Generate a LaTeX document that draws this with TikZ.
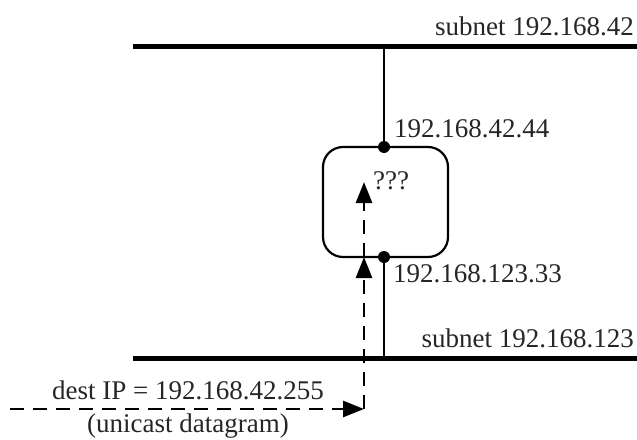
\documentclass[tikz,border=0pt]{standalone}
\usepackage{fontspec}
\setmainfont{Liberation Serif}
\usetikzlibrary{arrows.meta}
\begin{document}
\begin{tikzpicture}[x=1pt,y=-1pt,
  subnetline/.style={line width=5pt},
  link/.style={line width=1.8pt},
  router/.style={draw,line width=2.2pt,rounded corners=20pt,minimum width=125pt,minimum height=110pt,inner sep=0pt},
  iface/.style={circle,fill=black,inner sep=0pt,minimum size=12pt},
  lbl/.style={font=\fontsize{27}{30}\selectfont,inner sep=0pt,text=black!85},
  flow/.style={line width=2.6pt,dash pattern=on 14pt off 9pt,-{Triangle[length=21pt,width=16pt]}}
]
\useasboundingbox (0,0) rectangle (637,439);
% subnets
\coordinate (t1) at (133,46);
\coordinate (t2) at (637,46);
\coordinate (b1) at (133,358);
\coordinate (b2) at (637,358);
\draw[subnetline] (t1) -- (t2);
\draw[subnetline] (b1) -- (b2);
\coordinate (tv) at (384,46);
\coordinate (bv) at (384,358);
% router
\node[router] (r) at (385.5,202) {};
\node[iface] (i1) at (384,147) {};
\node[iface] (i2) at (384,257) {};
\draw[link] (tv) -- (i1);
\draw[link] (i2) -- (bv);
% labels
\node[lbl,anchor=base east] (n42) at (634,35) {subnet 192.168.42};
\node[lbl,anchor=base east] (n123) at (634,347) {subnet 192.168.123};
\node[lbl,anchor=base west] (a1) at (394,137) {192.168.42.44};
\node[lbl,anchor=base west] (a2) at (393,282) {192.168.123.33};
\node[lbl,anchor=base west] (q) at (373,189) {???};
\node[lbl,anchor=base] (d1) at (188,399) {dest IP = 192.168.42.255};
\node[lbl,anchor=base] (d2) at (188,432) {(unicast datagram)};
% datagram path
\coordinate (s) at (10,409);
\coordinate (c) at (364,409);
\coordinate (p1) at (364,257);
\coordinate (p2) at (364,182);
\draw[flow] (s) -- (c);
\draw[flow] (c) -- (p1);
\draw[flow] (p1) -- (p2);
\end{tikzpicture}
\end{document}
